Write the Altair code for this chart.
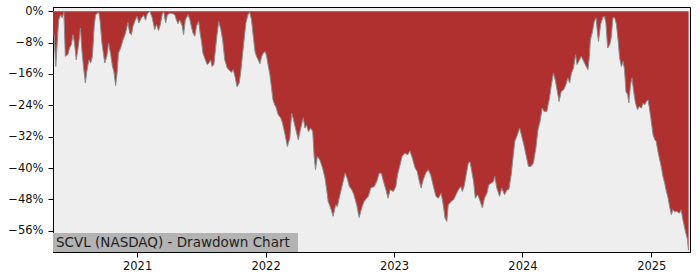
import altair as alt
import pandas as pd

dates = [
    "2020-05-07", "2020-05-10", "2020-05-15", "2020-05-19", "2020-05-23", "2020-05-29",
    "2020-06-02", "2020-06-07", "2020-06-11", "2020-06-18", "2020-06-23", "2020-06-28",
    "2020-07-03", "2020-07-07", "2020-07-12", "2020-07-18", "2020-07-24", "2020-07-28",
    "2020-08-02", "2020-08-07", "2020-08-11", "2020-08-17", "2020-08-22", "2020-08-27",
    "2020-09-01", "2020-09-05", "2020-09-14", "2020-09-18", "2020-09-23", "2020-10-01",
    "2020-10-07", "2020-10-12", "2020-10-18", "2020-10-23", "2020-10-27", "2020-11-01",
    "2020-11-05", "2020-11-09", "2020-11-15", "2020-11-22", "2020-11-29", "2020-12-06",
    "2020-12-11", "2020-12-16", "2020-12-20", "2020-12-27",
    "2021-01-01", "2021-01-06", "2021-01-13", "2021-01-20", "2021-01-25", "2021-01-30",
    "2021-02-06", "2021-02-13", "2021-02-20", "2021-02-25", "2021-03-03", "2021-03-08",
    "2021-03-14", "2021-03-18", "2021-03-23", "2021-03-28", "2021-04-04", "2021-04-11",
    "2021-04-18", "2021-04-23", "2021-04-27", "2021-05-02", "2021-05-09", "2021-05-13",
    "2021-05-18", "2021-05-26", "2021-05-31", "2021-06-05", "2021-06-09", "2021-06-14",
    "2021-06-19", "2021-06-25", "2021-06-29", "2021-07-03", "2021-07-07", "2021-07-14",
    "2021-07-19", "2021-07-24", "2021-07-29", "2021-08-02", "2021-08-07", "2021-08-12",
    "2021-08-16", "2021-08-21", "2021-08-27", "2021-09-01", "2021-09-07", "2021-09-14",
    "2021-09-19", "2021-09-26", "2021-10-01", "2021-10-06", "2021-10-12", "2021-10-18",
    "2021-10-22", "2021-10-26", "2021-10-31", "2021-11-06", "2021-11-12", "2021-11-17",
    "2021-11-22", "2021-11-27", "2021-12-02", "2021-12-06", "2021-12-11", "2021-12-16",
    "2021-12-21", "2021-12-25", "2021-12-31",
    "2022-01-04", "2022-01-08", "2022-01-13", "2022-01-18", "2022-01-22", "2022-01-27",
    "2022-01-30", "2022-02-06", "2022-02-13", "2022-02-15", "2022-02-18", "2022-02-25",
    "2022-03-04", "2022-03-11", "2022-03-16", "2022-03-20", "2022-03-28", "2022-04-04",
    "2022-04-10", "2022-04-18", "2022-04-23", "2022-04-27", "2022-05-03", "2022-05-09",
    "2022-05-15", "2022-05-19", "2022-05-23", "2022-05-28", "2022-06-04", "2022-06-12",
    "2022-06-19", "2022-06-23", "2022-06-28", "2022-07-05", "2022-07-12", "2022-07-19",
    "2022-07-24", "2022-07-29", "2022-08-05", "2022-08-15", "2022-08-21", "2022-08-27",
    "2022-09-03", "2022-09-09", "2022-09-17", "2022-09-24", "2022-10-01", "2022-10-08",
    "2022-10-15", "2022-10-20", "2022-10-27", "2022-11-06", "2022-11-13", "2022-11-20",
    "2022-11-26", "2022-12-02", "2022-12-09", "2022-12-15", "2022-12-21", "2022-12-30",
    "2023-01-06", "2023-01-11", "2023-01-18", "2023-01-24", "2023-02-01", "2023-02-09",
    "2023-02-15", "2023-02-22", "2023-03-02", "2023-03-08", "2023-03-13", "2023-03-19",
    "2023-03-25", "2023-04-01", "2023-04-08", "2023-04-15", "2023-04-23", "2023-04-30",
    "2023-05-07", "2023-05-15", "2023-05-21", "2023-05-26", "2023-05-31", "2023-06-04",
    "2023-06-12", "2023-06-19", "2023-06-26", "2023-07-03", "2023-07-10", "2023-07-14",
    "2023-07-19", "2023-07-25", "2023-07-31", "2023-08-05", "2023-08-10", "2023-08-15",
    "2023-08-20", "2023-08-27", "2023-09-03", "2023-09-09", "2023-09-15", "2023-09-22",
    "2023-09-27", "2023-10-04", "2023-10-11", "2023-10-14", "2023-10-20", "2023-10-28",
    "2023-11-03", "2023-11-11", "2023-11-18", "2023-11-23", "2023-11-30", "2023-12-05",
    "2023-12-10", "2023-12-16", "2023-12-24", "2023-12-31",
    "2024-01-06", "2024-01-11", "2024-01-18", "2024-01-25", "2024-02-01", "2024-02-08",
    "2024-02-14", "2024-02-20", "2024-02-26", "2024-03-03", "2024-03-10", "2024-03-18",
    "2024-03-23", "2024-03-29", "2024-04-04", "2024-04-09", "2024-04-14", "2024-04-20",
    "2024-04-27", "2024-05-03", "2024-05-09", "2024-05-14", "2024-05-19", "2024-05-25",
    "2024-05-31", "2024-06-04", "2024-06-10", "2024-06-16", "2024-06-23", "2024-06-30",
    "2024-07-05", "2024-07-09", "2024-07-12", "2024-07-18", "2024-07-23", "2024-07-28",
    "2024-08-01", "2024-08-04", "2024-08-10", "2024-08-16", "2024-08-21", "2024-08-25",
    "2024-08-30", "2024-09-05", "2024-09-09", "2024-09-14", "2024-09-19", "2024-09-24",
    "2024-09-29", "2024-10-03", "2024-10-08", "2024-10-13", "2024-10-17", "2024-10-21",
    "2024-10-26", "2024-10-29", "2024-11-03", "2024-11-07", "2024-11-12", "2024-11-17",
    "2024-11-23", "2024-11-28", "2024-12-04", "2024-12-09", "2024-12-13", "2024-12-18",
    "2024-12-23", "2024-12-28",
    "2025-01-01", "2025-01-06", "2025-01-11", "2025-01-15", "2025-01-20", "2025-01-26",
    "2025-01-30", "2025-02-03", "2025-02-08", "2025-02-13", "2025-02-18", "2025-02-22",
    "2025-02-27", "2025-03-03", "2025-03-08", "2025-03-15", "2025-03-22", "2025-03-27",
    "2025-03-31", "2025-04-04", "2025-04-08", "2025-04-13", "2025-04-17",
]

drawdown = [
    -5.6, -6.0, -14.1, -8.0, -2.2, -0.9,
    -1.7, -0.3, -11.5, -11.1, -9.4, -8.5,
    -6.0, -8.1, -12.4, -9.0, -4.3, -9.8,
    -14.5, -18.3, -15.4, -12.4, -13.2, -11.5,
    -3.9, -0.9, -0.3, -2.6, -8.1, -13.2,
    -11.5, -8.1, -11.1, -14.1, -15.4, -19.0,
    -15.8, -10.7, -9.4, -7.3, -5.6, -2.9,
    -5.6, -6.0, -3.9, -2.2,
    -1.3, -3.0, -1.7, -1.1, -2.3, -0.7,
    0.0, -1.7, -4.7, -3.4, -4.9, -3.4,
    -0.5, -0.3, -3.0, -0.9, -0.5, -0.6,
    -0.9, -2.3, -3.2, -2.2, -3.7, -6.0,
    -2.2, -0.9, -2.2, -4.3, -5.6, -6.4,
    -3.7, -2.6, -5.6, -7.7, -10.7, -12.4,
    -13.6, -13.2, -12.4, -14.1, -13.6, -9.4,
    -6.0, -2.6, -4.7, -7.3, -12.4, -14.5,
    -14.9, -15.6, -14.9, -16.6, -19.3, -18.3,
    -15.8, -12.4, -8.1, -3.0, -0.9, -0.3,
    -2.2, -6.4, -10.3, -11.5, -12.4, -13.4,
    -11.5, -10.7, -10.3,
    -11.5, -13.6, -16.0, -19.6, -22.6, -23.9,
    -24.3, -26.4, -27.2, -27.7, -28.5, -31.3,
    -34.5, -32.3, -26.0, -27.2, -30.2, -32.8,
    -30.2, -27.2, -29.8, -29.0, -30.7, -29.8,
    -30.7, -37.0, -40.4, -37.0, -37.9, -40.0,
    -42.6, -45.1, -48.5, -50.2, -52.3, -49.4,
    -49.8, -47.7, -45.1, -41.3, -42.6, -44.7,
    -45.5, -46.8, -49.4, -52.6, -50.2, -48.5,
    -47.7, -47.2, -45.1, -44.7, -43.4, -41.3,
    -41.3, -43.4, -45.5, -47.7, -45.5, -46.0,
    -44.7, -41.7, -39.2, -37.0, -36.2, -36.6,
    -35.6, -37.4, -40.0, -40.9, -43.0, -45.1,
    -43.0, -41.3, -40.4, -41.7, -44.7, -47.2,
    -47.7, -46.4, -49.4, -52.8, -53.6, -49.4,
    -48.5, -48.1, -46.8, -45.5, -44.7, -46.0,
    -44.7, -41.7, -38.7, -38.4, -40.9, -43.4,
    -47.7, -46.8, -48.5, -50.2, -47.7, -46.4,
    -44.3, -43.8, -43.4, -42.1, -45.1, -47.2,
    -45.1, -46.8, -45.5, -45.5, -41.7, -37.4,
    -33.2, -31.9, -29.8, -32.3,
    -34.5, -36.6, -39.6, -39.6, -38.7, -34.9,
    -30.2, -28.1, -24.7, -25.6, -25.6, -22.1,
    -18.8, -15.8, -17.9, -20.5, -23.0, -20.5,
    -20.0, -18.8, -17.0, -18.3, -15.8, -14.5,
    -11.1, -13.6, -12.6, -11.5, -12.8, -14.1,
    -14.9, -11.5, -7.3, -5.2, -2.6, -1.7,
    -5.6, -7.7, -3.4, -1.6, -1.3, -3.0,
    -9.4, -8.5, -6.8, -1.7, -1.7, -3.4,
    -7.7, -11.9, -14.1, -12.8, -14.9, -20.5,
    -21.3, -23.4, -18.8, -17.0, -20.5, -23.4,
    -25.1, -24.3, -24.7, -23.4, -23.9, -23.0,
    -22.6, -25.6,
    -28.1, -31.5, -32.8, -33.2, -35.8, -38.3,
    -40.0, -42.1, -43.8, -46.0, -47.7, -49.8,
    -51.9, -50.6, -51.1, -51.1, -51.5, -50.6,
    -52.8, -54.5, -56.2, -57.9, -61.0,
]

y_ticks = [0, -8, -16, -24, -32, -40, -48, -56]
x_tick_years = [2021, 2022, 2023, 2024, 2025]
title_text = ["SCVL (NASDAQ) - Drawdown Chart"]

df = pd.DataFrame({"date": dates, "dd": drawdown})
title_df = pd.DataFrame({"t": title_text})

FONT = "DejaVu Sans"

x_enc = alt.X(
    "date:T",
    scale=alt.Scale(
        type="utc",
        domain=[alt.DateTime(year=2020, month=5, date=7, utc=True),
                alt.DateTime(year=2025, month=4, date=21, utc=True)],
    ),
    axis=alt.Axis(
        values=[alt.DateTime(year=y, month=1, date=1, utc=True) for y in x_tick_years],
        labelExpr="utcFormat(datum.value, '%Y')",
        title=None,
        labelPadding=3,
        labelOverlap=False,
        tickCount=20,
    ),
)
y_enc = alt.Y(
    "dd:Q",
    scale=alt.Scale(domain=[-61.4, 1.07], nice=False, zero=False),
    axis=alt.Axis(
        values=y_ticks,
        labelExpr="replace(format(datum.value, 'd'), '-', '\u2212') + '%'",
        title=None,
        labelPadding=5,
        labelOverlap=False,
        labelBound=False,
        tickCount=20,
    ),
)

base = alt.Chart(df)

area = base.mark_area(color="#b03030", interpolate="linear", clip=True).encode(
    x=x_enc, y=y_enc, y2=alt.value(0)
)
edge = base.mark_line(color="#8c8c8c", strokeWidth=1, clip=True).encode(
    x="date:T", y="dd:Q"
)

box = alt.Chart(title_df).mark_rect(color="#b3b3b3").encode(
    x=alt.value(0), x2=alt.value(245), y=alt.value(226), y2=alt.value(245)
)
label = alt.Chart(title_df).mark_text(
    align="left", baseline="alphabetic", font=FONT, fontSize=13.5, color="#222222"
).encode(x=alt.value(3), y=alt.value(239.5), text="t:N")

chart = (
    alt.layer(area, edge, box, label)
    .properties(
        width=637,
        height=245,
        autosize=alt.AutoSizeParams(type="none"),
        padding={"left": 53, "top": 7, "right": 10, "bottom": 28},
        background="white",
    )
    .configure_view(stroke="black", strokeWidth=1, fill="#eeeeee")
    .configure_axis(
        grid=False,
        domainColor="black",
        domainWidth=1,
        tickColor="black",
        tickSize=5,
        tickWidth=1,
        labelColor="#111111",
        labelFont=FONT,
        labelFontSize=11.5,
    )
)

chart.save("out.html", embed_options={"renderer": "svg", "actions": False})
